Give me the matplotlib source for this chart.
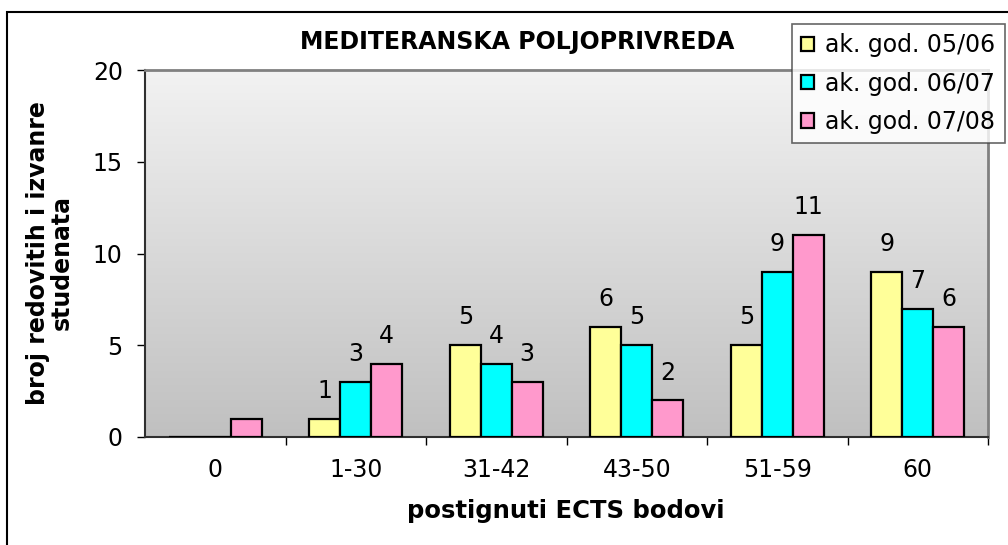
import numpy as np
import matplotlib
matplotlib.use('Agg')
import matplotlib.pyplot as plt
from matplotlib.patches import Rectangle
from matplotlib.colors import LinearSegmentedColormap

categories = ['0', '1-30', '31-42', '43-50', '51-59', '60']
series_names = ['ak. god. 05/06', 'ak. god. 06/07', 'ak. god. 07/08']
s0506 = [0, 1, 5, 6, 5, 9]
s0607 = [0, 3, 4, 5, 9, 7]
s0708 = [1, 4, 3, 2, 11, 6]
colors = ['#FFFF99', '#00FFFF', '#FF99CC']

plt.rcParams['font.family'] = ['DejaVu Sans']

fig = plt.figure(figsize=(10.08, 5.45), dpi=100)
ax = fig.add_axes([145 / 1008, 1 - 437 / 545, 843 / 1008, 367 / 545])

# gradient background of the plot area (light at top, darker at bottom)
bg = LinearSegmentedColormap.from_list('bg', ['#f2f2f2', '#c0c0c0'])
grad = np.linspace(0, 1, 256).reshape(-1, 1)
ax.imshow(grad, extent=[-0.5, 5.5, 0, 20], aspect='auto', cmap=bg,
          vmin=0, vmax=1, origin='upper', zorder=0)

x = np.arange(len(categories))
w = 0.22
for j, (vals, c, name) in enumerate(zip([s0506, s0607, s0708], colors, series_names)):
    pos = x + (j - 1) * w
    ax.bar(pos, vals, width=w, color=c, edgecolor='black', linewidth=1.6,
           label=name, zorder=3)
    for i, v in enumerate(vals):
        # first category has no value labels in the original
        if v == 0 or i == 0:
            continue
        ax.annotate(str(v), (pos[i], v), xytext=(0, 20), textcoords='offset points',
                    ha='center', va='center', fontsize=17)

ax.set_xlim(-0.5, 5.5)
ax.set_ylim(0, 20)
ax.set_yticks([0, 5, 10, 15, 20])
ax.tick_params(axis='y', labelsize=17, length=6, width=1, direction='out', pad=10)
ax.set_xticks(x)
ax.set_xticklabels(categories)
ax.set_xticks(np.arange(0.5, 5.6, 1), minor=True)
ax.tick_params(axis='x', which='major', length=0, labelsize=17, pad=15)
ax.tick_params(axis='x', which='minor', length=6, width=1, direction='out')

for s in ['top', 'right']:
    ax.spines[s].set_color('#808080')
    ax.spines[s].set_linewidth(2)
for s in ['left', 'bottom']:
    ax.spines[s].set_color('#303030')
    ax.spines[s].set_linewidth(1.5)

fig.text(517 / 1008, 1 - 42 / 545, 'MEDITERANSKA POLJOPRIVREDA', ha='center',
         va='center', fontsize=17, fontweight='bold')
fig.text(566 / 1008, 1 - 511 / 545, 'postignuti ECTS bodovi', ha='center',
         va='center', fontsize=17.5, fontweight='bold')
fig.text(38 / 1008, 1 - 405 / 545, 'broj redovitih i izvanre', ha='center',
         va='bottom', rotation=90, fontsize=17, fontweight='bold')
fig.text(62 / 1008, 1 - 262 / 545, 'studenata', ha='center',
         va='center', rotation=90, fontsize=17, fontweight='bold')

# outer chart frame
fig.patches.append(Rectangle((7 / 1008, -0.1), 1.2, 1 - 12 / 545 + 0.1,
                             transform=fig.transFigure, fill=False,
                             edgecolor='black', linewidth=1.5))

leg = fig.legend(loc='upper left', bbox_to_anchor=(792 / 1008, 1 - 24 / 545),
                 fontsize=17, frameon=True, fancybox=False, edgecolor='#404040',
                 handlelength=0.55, handleheight=0.55, handletextpad=0.45,
                 labelspacing=0.6, borderpad=0.4, borderaxespad=0)
leg.get_frame().set_linewidth(1.2)

fig.savefig('out.png', dpi=100)
